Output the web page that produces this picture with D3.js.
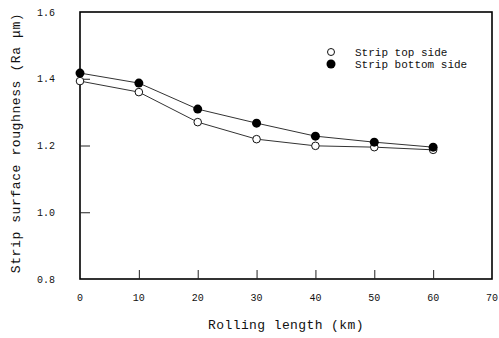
<!DOCTYPE html>
<html>
<head>
<meta charset="utf-8">
<script src="https://cdn.jsdelivr.net/npm/d3@7"></script>
<style>
  body { margin: 0; background: #fff; }
  text { font-family: "Liberation Mono", monospace; fill: #111; }
</style>
</head>
<body>
<svg id="chart" width="499" height="338"></svg>
<script>
// rolling length (km) and roughness readings
const lengths = [0, 10, 20, 30, 40, 50, 60];
const topSide = [1.393, 1.360, 1.270, 1.219, 1.199, 1.195, 1.187];
const bottomSide = [1.417, 1.387, 1.309, 1.267, 1.228, 1.210, 1.195];
const xTicks = [0, 10, 20, 30, 40, 50, 60, 70];
const yTicks = [0.8, 1.0, 1.2, 1.4, 1.6];
const seriesNames = ["Strip top side", "Strip bottom side"];

const svg = d3.select("#chart");
const m = { l: 80, r: 492, t: 12, b: 279 };

const x = d3.scaleLinear().domain([0, 70]).range([m.l, m.r]);
const y = d3.scaleLinear().domain([0.8, 1.6]).range([m.b, m.t]);

// frame
svg.append("rect")
  .attr("x", m.l).attr("y", m.t)
  .attr("width", m.r - m.l).attr("height", m.b - m.t)
  .attr("fill", "none").attr("stroke", "#000").attr("stroke-width", 1.6);

// inward ticks
const xAxis = d3.axisTop(x).tickValues(xTicks.slice(1, -1)).tickSize(9).tickFormat("");
svg.append("g").attr("transform", `translate(0,${m.b})`).call(xAxis)
  .call(g => g.select(".domain").remove())
  .selectAll("line").attr("stroke", "#222").attr("stroke-width", 1);

const yAxis = d3.axisRight(y).tickValues(yTicks.slice(1, -1)).tickSize(10).tickFormat("");
svg.append("g").attr("transform", `translate(${m.l},0)`).call(yAxis)
  .call(g => g.select(".domain").remove())
  .selectAll("line").attr("stroke", "#222").attr("stroke-width", 1);

// tick labels
svg.append("g").selectAll("text").data(xTicks).join("text")
  .attr("x", d => x(d)).attr("y", 301)
  .attr("text-anchor", "middle").attr("font-size", 10)
  .text(d => d);

svg.append("g").selectAll("text").data(yTicks).join("text")
  .attr("x", 55).attr("y", d => y(d) + 3.5)
  .attr("text-anchor", "end").attr("font-size", 10)
  .text(d => d3.format(".1f")(d));

// axis titles
svg.append("text")
  .attr("x", 286).attr("y", 329)
  .attr("text-anchor", "middle").attr("font-size", 13)
  .attr("letter-spacing", 0.4)
  .text("Rolling length (km)");

svg.append("text")
  .attr("transform", "translate(20,143) rotate(-90)")
  .attr("text-anchor", "middle").attr("font-size", 13)
  .attr("letter-spacing", 0.6)
  .text("Strip surface roughness (Ra μm)");

// lines
const line = d3.line().x((d, i) => x(lengths[i])).y(d => y(d));
[topSide, bottomSide].forEach(s => {
  svg.append("path").datum(s).attr("d", line)
    .attr("fill", "none").attr("stroke", "#333").attr("stroke-width", 1);
});

// markers
svg.append("g").selectAll("circle").data(topSide).join("circle")
  .attr("cx", (d, i) => x(lengths[i])).attr("cy", d => y(d))
  .attr("r", 3.8).attr("fill", "#fff").attr("stroke", "#111").attr("stroke-width", 1);

svg.append("g").selectAll("circle").data(bottomSide).join("circle")
  .attr("cx", (d, i) => x(lengths[i])).attr("cy", d => y(d))
  .attr("r", 4.5).attr("fill", "#000");

// legend
const leg = svg.append("g").attr("transform", "translate(331,52)");
seriesNames.forEach((name, i) => {
  const row = leg.append("g").attr("transform", `translate(0,${i * 12})`);
  row.append("circle").attr("r", i ? 4.5 : 3.5)
    .attr("fill", i ? "#000" : "#fff")
    .attr("stroke", i ? "none" : "#111");
  row.append("text").attr("x", 24).attr("y", 3.5)
    .attr("font-size", 11).text(name);
});
</script>
</body>
</html>
